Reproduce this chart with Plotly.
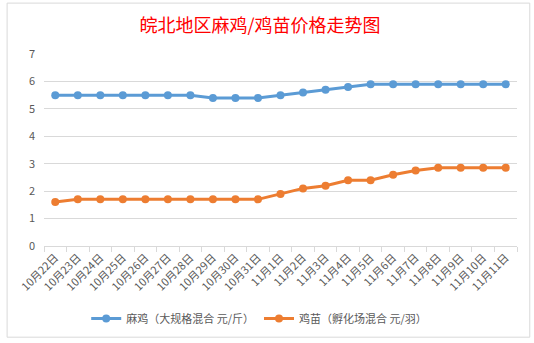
import plotly.graph_objects as go

dates = ["10月22日", "10月23日", "10月24日", "10月25日", "10月26日", "10月27日", "10月28日",
         "10月29日", "10月30日", "10月31日", "11月1日", "11月2日", "11月3日", "11月4日",
         "11月5日", "11月6日", "11月7日", "11月8日", "11月9日", "11月10日", "11月11日"]
maji = [5.5, 5.5, 5.5, 5.5, 5.5, 5.5, 5.5, 5.4, 5.4, 5.4, 5.5, 5.6, 5.7, 5.8,
        5.9, 5.9, 5.9, 5.9, 5.9, 5.9, 5.9]
jimiao = [1.6, 1.7, 1.7, 1.7, 1.7, 1.7, 1.7, 1.7, 1.7, 1.7, 1.9, 2.1, 2.2, 2.4,
          2.4, 2.6, 2.75, 2.85, 2.85, 2.85, 2.85]
name_maji = "麻鸡（大规格混合 元/斤）"
name_jimiao = "鸡苗（孵化场混合 元/羽）"
title_text = "皖北地区麻鸡/鸡苗价格走势图"

font_family = "Noto Sans CJK SC, Microsoft YaHei, sans-serif"

fig = go.Figure()
fig.add_trace(go.Scatter(x=dates, y=maji, name=name_maji, mode="lines+markers",
                         line=dict(color="#5b9bd5", width=3),
                         marker=dict(size=8, color="#5b9bd5")))
fig.add_trace(go.Scatter(x=dates, y=jimiao, name=name_jimiao, mode="lines+markers",
                         line=dict(color="#ed7d31", width=3),
                         marker=dict(size=8, color="#ed7d31")))

fig.update_layout(
    width=534, height=343,
    margin=dict(l=44, r=17, t=54, b=96),
    paper_bgcolor="white", plot_bgcolor="white",
    font=dict(family=font_family, color="#595959", size=11),
    title=dict(text=title_text, x=0.487, xanchor="center", y=0.925, yanchor="middle",
               font=dict(family=font_family, size=18, color="#ff0000")),
    legend=dict(orientation="h", x=0.455, xanchor="center",
                y=-0.37, yanchor="middle",
                font=dict(size=11, color="#595959"), itemwidth=30, tracegroupgap=0),
    shapes=[dict(type="rect", xref="paper", yref="paper", x0=-0.078, x1=1.027,
                 y0=-0.475, y1=1.265, line=dict(color="#d9d9d9", width=1))],
)
fig.update_xaxes(type="category", tickangle=-45, showgrid=False, showline=True,
                 linecolor="#d9d9d9", linewidth=1, ticks="outside", tickcolor="#d9d9d9",
                 ticklen=5, tickson="boundaries", tickfont=dict(size=11, color="#595959"),
                 range=[-0.5, 20.5])
fig.update_yaxes(range=[0, 7], dtick=1, showgrid=True, gridcolor="#d9d9d9", gridwidth=1,
                 zeroline=False, showline=False, tickfont=dict(size=11, color="#595959"),
                 ticklabelstandoff=8)

fig.write_html("out.html")
